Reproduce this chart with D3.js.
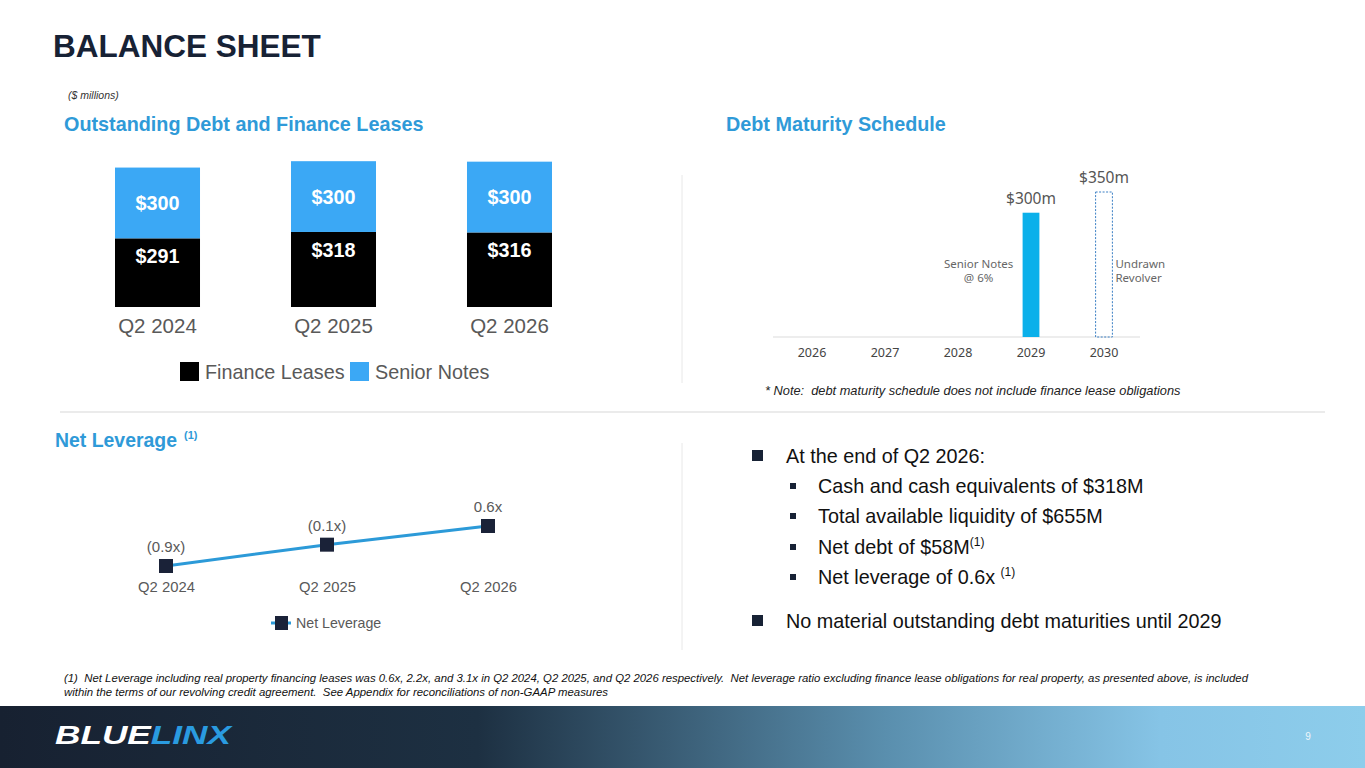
<!DOCTYPE html>
<html>
<head>
<meta charset="utf-8">
<script src="https://cdn.jsdelivr.net/npm/d3@7"></script>
<style>
  html, body { margin: 0; padding: 0; background: #fff; }
  svg { display: block; font-family: "Liberation Sans", Arial, sans-serif; }
  text { white-space: pre; }
</style>
</head>
<body>
<svg id="slide" width="1365" height="768"></svg>
<script>
// outstanding debt (stacked bars)
const debtPeriods = ["Q2 2024", "Q2 2025", "Q2 2026"];
const financeLeases = [291, 318, 316];
const seniorNotes = [300, 300, 300];

// maturity schedule
const maturityYears = ["2026", "2027", "2028", "2029", "2030"];
const notesMaturing = [0, 0, 0, 300, 0];
const revolverUndrawn = [0, 0, 0, 0, 350];

// net leverage
const levPeriods = ["Q2 2024", "Q2 2025", "Q2 2026"];
const netLeverage = [-0.9, -0.1, 0.6];
const levLabels = ["(0.9x)", "(0.1x)", "0.6x"];

const navy = "#172235", blue = "#2f9ad8", grey = "#595959";

const svg = d3.select("#slide");

// ---------- page furniture ----------
svg.append("text").attr("x", 53).attr("y", 57)
   .attr("font-size", 31.5).attr("font-weight", "bold").attr("fill", navy)
   .text("BALANCE SHEET");

svg.append("text").attr("x", 68).attr("y", 99)
   .attr("font-size", 10.5).attr("font-style", "italic").attr("fill", "#333")
   .text("($ millions)");

function sectionTitle(x, y, txt) {
  return svg.append("text").attr("x", x).attr("y", y)
    .attr("font-size", 19.8).attr("font-weight", "bold").attr("fill", blue)
    .text(txt);
}
sectionTitle(64, 131, "Outstanding Debt and Finance Leases");
sectionTitle(726, 131, "Debt Maturity Schedule");
sectionTitle(55, 447, "Net Leverage")
  .attr("textLength", 122).attr("lengthAdjust", "spacingAndGlyphs");
svg.append("text").attr("x", 184).attr("y", 439)
   .attr("font-size", 11).attr("font-weight", "bold").attr("fill", blue).text("(1)");

// dividers
svg.append("line").attr("x1", 60).attr("x2", 1325).attr("y1", 412).attr("y2", 412)
   .attr("stroke", "#e4e4e4").attr("stroke-width", 1.5);
svg.append("line").attr("x1", 682).attr("x2", 682).attr("y1", 175).attr("y2", 383)
   .attr("stroke", "#e8e8e8");
svg.append("line").attr("x1", 682).attr("x2", 682).attr("y1", 443).attr("y2", 650)
   .attr("stroke", "#e8e8e8");

// ---------- stacked bar chart ----------
const stackRows = debtPeriods.map((p, i) => ({period: p, lease: financeLeases[i], notes: seniorNotes[i]}));
const series = d3.stack().keys(["lease", "notes"])(stackRows);

const xB = d3.scaleBand().domain(debtPeriods).range([115, 552]).paddingInner(0.517).paddingOuter(0);
const yB = d3.scaleLinear().domain([0, 640]).range([307, 156]);
const barColor = {lease: "#000000", notes: "#3ba8f5"};

const gB = svg.append("g");
series.forEach(s => {
  gB.selectAll(null).data(s).enter().append("rect")
    .attr("x", d => xB(d.data.period))
    .attr("width", xB.bandwidth())
    .attr("y", d => yB(d[1]))
    .attr("height", d => yB(d[0]) - yB(d[1]))
    .attr("fill", barColor[s.key]);
});
// labels: notes centred, leases near top of segment
gB.selectAll(null).data(series[1]).enter().append("text")
  .attr("x", d => xB(d.data.period) + xB.bandwidth() / 2)
  .attr("y", d => (yB(d[0]) + yB(d[1])) / 2 + 7)
  .attr("text-anchor", "middle").attr("font-size", 19.8).attr("font-weight", "bold").attr("fill", "#fff")
  .text(d => "$" + d.data.notes);
gB.selectAll(null).data(series[0]).enter().append("text")
  .attr("x", d => xB(d.data.period) + xB.bandwidth() / 2)
  .attr("y", d => yB(d[1]) + 25)
  .attr("text-anchor", "middle").attr("font-size", 19.8).attr("font-weight", "bold").attr("fill", "#fff")
  .text(d => "$" + d.data.lease);

const axB = gB.append("g").attr("transform", "translate(0,307)")
  .call(d3.axisBottom(xB).tickSize(0).tickPadding(11));
axB.select(".domain").remove();
axB.selectAll("text").attr("font-size", 20.5).attr("fill", grey).attr("font-family", "Liberation Sans, Arial, sans-serif");

const legB = [["Finance Leases", "#000000", 180], ["Senior Notes", "#3ba8f5", 350]];
legB.forEach(([t, c, x]) => {
  svg.append("rect").attr("x", x).attr("y", 362).attr("width", 19).attr("height", 19).attr("fill", c);
  svg.append("text").attr("x", x + 25).attr("y", 379).attr("font-size", 19.8).attr("fill", grey).text(t);
});

// ---------- debt maturity schedule ----------
const mFont = "'Noto Sans', 'Open Sans', sans-serif";
const xM = d3.scaleBand().domain(maturityYears).range([781.7, 1134.3]).paddingInner(0.77).paddingOuter(0.3);
const yM = d3.scaleLinear().domain([0, 350]).range([337, 192]);
const gM = svg.append("g").attr("font-family", mFont);

gM.append("line").attr("x1", 773).attr("x2", 1140).attr("y1", 337).attr("y2", 337)
  .attr("stroke", "#dcdcdc").attr("stroke-width", 1.2);

function noteLines(x, anchor, lines) {
  lines.forEach((s, k) => {
    gM.append("text").attr("x", x).attr("y", 268 + k * 14)
      .attr("text-anchor", anchor).attr("font-size", 11.5).attr("fill", "#666").text(s);
  });
}

maturityYears.forEach((yr, i) => {
  if (notesMaturing[i] > 0) {
    gM.append("rect").attr("x", xM(yr)).attr("width", xM.bandwidth())
      .attr("y", yM(notesMaturing[i])).attr("height", yM(0) - yM(notesMaturing[i]))
      .attr("fill", "#0bb0ea");
    gM.append("text").attr("x", xM(yr) + xM.bandwidth() / 2).attr("y", yM(notesMaturing[i]) - 9)
      .attr("text-anchor", "middle").attr("font-size", 15.5).attr("fill", "#555").text("$" + notesMaturing[i] + "m");
    noteLines(xM(yr) - 44, "middle", ["Senior Notes", "@ 6%"]);
  }
  if (revolverUndrawn[i] > 0) {
    gM.append("rect").attr("x", xM(yr)).attr("width", xM.bandwidth())
      .attr("y", yM(revolverUndrawn[i])).attr("height", yM(0) - yM(revolverUndrawn[i]))
      .attr("fill", "none").attr("stroke", "#3a7fc4").attr("stroke-width", 1).attr("stroke-dasharray", "2,1.5");
    gM.append("text").attr("x", xM(yr) + xM.bandwidth() / 2).attr("y", yM(revolverUndrawn[i]) - 9)
      .attr("text-anchor", "middle").attr("font-size", 15.5).attr("fill", "#555").text("$" + revolverUndrawn[i] + "m");
    noteLines(xM(yr) + xM.bandwidth() + 3, "start", ["Undrawn", "Revolver"]);
  }
});

const axM = gM.append("g").attr("transform", "translate(0,337)")
  .call(d3.axisBottom(xM).tickSize(0).tickPadding(11));
axM.select(".domain").remove();
axM.selectAll("text").attr("font-size", 12.5).attr("fill", "#444").attr("font-family", mFont);

svg.append("text").attr("x", 765).attr("y", 395).attr("font-size", 12.8).attr("font-style", "italic")
   .attr("fill", "#222").text("* Note:  debt maturity schedule does not include finance lease obligations");

// ---------- net leverage line ----------
const xL = d3.scalePoint().domain(levPeriods).range([166, 488]);
const yL = d3.scaleLinear().domain([-0.9, 0.6]).range([566, 526]);
const levData = levPeriods.map((p, i) => ({p, v: netLeverage[i], lab: levLabels[i]}));
const gL = svg.append("g");

gL.append("path").datum(levData)
  .attr("d", d3.line().x(d => xL(d.p)).y(d => yL(d.v)))
  .attr("fill", "none").attr("stroke", "#2c9ad8").attr("stroke-width", 3);
gL.selectAll(null).data(levData).enter().append("rect")
  .attr("x", d => xL(d.p) - 7).attr("y", d => yL(d.v) - 7)
  .attr("width", 14).attr("height", 14).attr("fill", "#1a2238");
gL.selectAll(null).data(levData).enter().append("text")
  .attr("x", d => xL(d.p)).attr("y", d => yL(d.v) - 14)
  .attr("text-anchor", "middle").attr("font-size", 15).attr("fill", grey).text(d => d.lab);

const axL = gL.append("g").attr("transform", "translate(0,578)")
  .call(d3.axisBottom(xL).tickSize(0).tickPadding(3));
axL.select(".domain").remove();
axL.selectAll("text").attr("font-size", 14.8).attr("fill", grey).attr("font-family", "Liberation Sans, Arial, sans-serif");

gL.append("line").attr("x1", 271).attr("x2", 291).attr("y1", 623).attr("y2", 623)
  .attr("stroke", "#2c9ad8").attr("stroke-width", 3);
gL.append("rect").attr("x", 275).attr("y", 616).attr("width", 13).attr("height", 14).attr("fill", "#1a2238");
gL.append("text").attr("x", 296).attr("y", 628).attr("font-size", 14.2).attr("fill", grey).text("Net Leverage");

// ---------- bullets ----------
const bullets = [
  {lvl: 0, y: 463, parts: [["At the end of Q2 2026:"]]},
  {lvl: 1, y: 493, parts: [["Cash and cash equivalents of $318M"]]},
  {lvl: 1, y: 523, parts: [["Total available liquidity of $655M"]]},
  {lvl: 1, y: 554, parts: [["Net debt of $58M"], ["(1)", true]]},
  {lvl: 1, y: 584, parts: [["Net leverage of 0.6x "], ["(1)", true]]},
  {lvl: 0, y: 628, parts: [["No material outstanding debt maturities until 2029"]]}
];
bullets.forEach(b => {
  if (b.lvl === 0) {
    svg.append("rect").attr("x", 752).attr("y", b.y - 13).attr("width", 11).attr("height", 11).attr("fill", navy);
  } else {
    svg.append("rect").attr("x", 790).attr("y", b.y - 10).attr("width", 6).attr("height", 6).attr("fill", navy);
  }
  const t = svg.append("text").attr("x", b.lvl === 0 ? 786 : 818).attr("y", b.y)
    .attr("font-size", 19.8).attr("fill", "#111");
  b.parts.forEach(([s, sup]) => {
    const ts = t.append("tspan").text(s);
    if (sup) ts.attr("font-size", 12).attr("dy", -8);
  });
});

// ---------- footnote ----------
svg.append("text").attr("x", 64).attr("y", 682).attr("font-size", 11).attr("font-style", "italic").attr("fill", "#111")
   .attr("textLength", 1184).attr("lengthAdjust", "spacingAndGlyphs")
   .text("(1)  Net Leverage including real property financing leases was 0.6x, 2.2x, and 3.1x in Q2 2024, Q2 2025, and Q2 2026 respectively.  Net leverage ratio excluding finance lease obligations for real property, as presented above, is included");
svg.append("text").attr("x", 64).attr("y", 696).attr("font-size", 11).attr("font-style", "italic").attr("fill", "#111")
   .attr("textLength", 544).attr("lengthAdjust", "spacingAndGlyphs")
   .text("within the terms of our revolving credit agreement.  See Appendix for reconciliations of non-GAAP measures");

// ---------- footer band ----------
const grad = svg.append("defs").append("linearGradient").attr("id", "foot")
  .attr("x1", "0%").attr("x2", "100%");
grad.append("stop").attr("offset", "0%").attr("stop-color", "#172131");
grad.append("stop").attr("offset", "35%").attr("stop-color", "#1d3042");
grad.append("stop").attr("offset", "65%").attr("stop-color", "#5a8fae");
grad.append("stop").attr("offset", "85%").attr("stop-color", "#86c4e6");
grad.append("stop").attr("offset", "100%").attr("stop-color", "#8dcdeb");
svg.append("rect").attr("x", 0).attr("y", 706).attr("width", 1365).attr("height", 62).attr("fill", "url(#foot)");

const logo = svg.append("text").attr("x", 55).attr("y", 744)
  .attr("font-size", 25).attr("font-weight", "bold").attr("font-style", "italic")
  .attr("textLength", 176).attr("lengthAdjust", "spacingAndGlyphs");
logo.append("tspan").attr("fill", "#ffffff").text("BLUE");
logo.append("tspan").attr("fill", "#2a9be0").text("LINX");

svg.append("text").attr("x", 1308).attr("y", 740).attr("text-anchor", "middle")
   .attr("font-size", 10).attr("fill", "#eef6fb").text("9");
</script>
</body>
</html>
